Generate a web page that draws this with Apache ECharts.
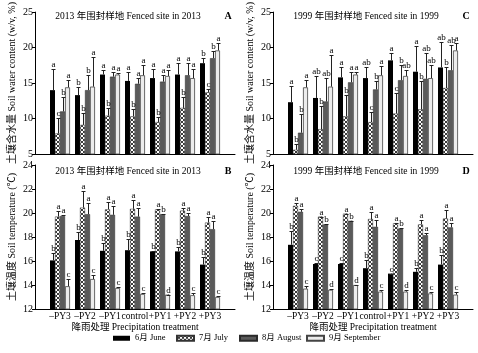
<!DOCTYPE html>
<html>
<head>
<meta charset="utf-8">
<script src="https://cdn.jsdelivr.net/npm/echarts@6/dist/echarts.min.js"></script>
<style>
  html, body { margin: 0; padding: 0; background: #fff; }
  #main { width: 478px; height: 353px; }
</style>
</head>
<body>
<div id="main"></div>
<script>
const categories = ['–PY3', '–PY2', '–PY1', 'control', '+PY1', '+PY2', '+PY3'];
const months = ['6月 June', '7月 July', '8月 August', '9月 September'];

// A: soil water content, 2013 site (rows: June, July, August, September)
const swc13Mean = [
  [14.0, 13.3, 16.2, 15.3, 15.7, 16.2, 17.8],
  [7.9, 9.1, 10.4, 10.3, 9.5, 11.5, 13.7],
  [11.0, 14.0, 15.9, 14.9, 15.2, 16.1, 18.5],
  [14.4, 14.5, 16.2, 16.1, 16.0, 15.7, 19.6]
];
const swc13Top = [
  [17.0, 14.5, 16.8, 16.5, 17.0, 17.8, 18.6],
  [10.1, 10.8, 11.5, 11.3, 10.2, 13.0, 14.1],
  [13.0, 16.2, 16.5, 15.7, 16.2, 17.8, 19.5],
  [15.5, 18.7, 16.4, 17.5, 16.8, 17.0, 20.6]
];
const swc13Letters = [
  ['a', 'b', 'a', 'a', 'a', 'a', 'b'],
  ['c', 'b', 'b', 'b', 'b', 'b', 'c'],
  ['b', 'b', 'a', 'a', 'a', 'a', 'b'],
  ['a', 'a', 'a', 'a', 'a', 'a', 'a']
];

// C: soil water content, 1999 site
const swc99Mean = [
  [12.3, 12.9, 15.8, 15.7, 18.2, 16.6, 17.2],
  [5.6, 8.5, 10.3, 9.5, 10.7, 11.3, 14.3],
  [8.0, 12.4, 15.1, 14.1, 15.4, 15.6, 16.8],
  [14.4, 14.5, 16.2, 16.1, 16.0, 15.7, 19.6]
];
const swc99Top = [
  [14.6, 16.0, 17.2, 17.2, 19.2, 20.2, 20.8],
  [6.4, 11.7, 13.3, 10.9, 13.6, 15.3, 17.3],
  [10.7, 15.7, 16.5, 15.3, 17.5, 19.2, 20.4],
  [15.5, 19.0, 16.5, 17.4, 16.8, 17.5, 20.6]
];
const swc99Letters = [
  ['a', 'ab', 'a', 'ab', 'a', 'a', 'ab'],
  ['b', 'b', 'b', 'c', 'c', 'b', 'b'],
  ['b', 'ab', 'a', 'b', 'b', 'ab', 'ab'],
  ['a', 'a', 'a', 'a', 'ab', 'ab', 'a']
];

// B: soil temperature, 2013 site
const st13Mean = [
  [16.05, 17.75, 16.85, 16.9, 16.8, 16.8, 15.7],
  [19.7, 20.45, 20.3, 20.35, 20.3, 20.2, 19.2],
  [19.75, 19.9, 19.85, 19.7, 19.9, 19.75, 18.65],
  [13.9, 14.5, 13.75, 13.25, 13.2, 13.15, 13.0]
];
const st13Top = [
  [16.7, 18.4, 17.5, 17.8, 16.8, 17.15, 16.3],
  [20.2, 21.8, 20.95, 21.1, 20.3, 20.4, 19.7],
  [19.8, 20.8, 20.6, 20.4, 19.9, 20.0, 19.3],
  [14.5, 14.8, 13.8, 13.3, 13.2, 13.3, 13.1]
];
const st13Letters = [
  ['b', 'b', 'b', 'b', 'b', 'b', 'b'],
  ['a', 'a', 'a', 'a', 'a', 'a', 'a'],
  ['a', 'a', 'a', 'a', 'b', 'a', 'a'],
  ['c', 'c', 'c', 'c', 'd', 'c', 'c']
];

// D: soil temperature, 1999 site
const st99Mean = [
  [17.35, 15.75, 15.75, 15.4, 14.95, 15.1, 15.7],
  [20.6, 19.7, 19.95, 19.5, 19.15, 19.05, 19.55],
  [20.1, 19.05, 19.35, 18.85, 18.7, 18.15, 18.8],
  [13.7, 13.6, 14.0, 13.45, 13.45, 13.3, 13.2]
];
const st99Top = [
  [18.5, 15.8, 15.85, 16.1, 14.95, 15.4, 16.5],
  [20.85, 19.7, 19.95, 20.1, 19.2, 19.4, 20.25],
  [20.35, 19.1, 19.35, 19.4, 18.75, 18.3, 19.2],
  [13.9, 13.65, 14.0, 13.55, 13.6, 13.4, 13.4]
];
const st99Letters = [
  ['b', 'c', 'c', 'b', 'c', 'b', 'b'],
  ['a', 'a', 'a', 'a', 'a', 'a', 'a'],
  ['a', 'b', 'b', 'a', 'b', 'a', 'a'],
  ['c', 'd', 'd', 'c', 'd', 'c', 'c']
];

const FONT = "'Liberation Serif', 'Noto Sans CJK SC', serif";
const BAR_W = 5;

// 7月 pattern
const tile = document.createElement('canvas');
tile.width = 4; tile.height = 4;
const tc = tile.getContext('2d');
tc.fillStyle = '#fff';
tc.fillRect(0, 0, 4, 4);
tc.fillStyle = '#3a3a3a';
[[0, 0], [1, 1], [2, 2], [3, 3], [3, 0], [2, 1], [1, 2], [0, 3]].forEach(p => tc.fillRect(p[0], p[1], 1, 1));

const monthStyles = [
  { color: '#000' },
  { color: { image: tile, repeat: 'repeat' }, borderColor: '#333', borderWidth: 0.5 },
  { color: '#5a5a5a', borderColor: '#2a2a2a', borderWidth: 0.5 },
  { color: '#ececec', borderColor: '#444', borderWidth: 0.8 }
];

const panels = [
  { grid: 0, mean: swc13Mean, top: swc13Top, letters: swc13Letters,
    title: '2013 年围封样地 Fenced site in 2013', tag: 'A' },
  { grid: 1, mean: swc99Mean, top: swc99Top, letters: swc99Letters,
    title: '1999 年围封样地 Fenced site in 1999', tag: 'C' },
  { grid: 2, mean: st13Mean, top: st13Top, letters: st13Letters,
    title: '2013 年围封样地 Fenced site in 2013', tag: 'B' },
  { grid: 3, mean: st99Mean, top: st99Top, letters: st99Letters,
    title: '1999 年围封样地 Fenced site in 1999', tag: 'D' }
];

const grids = [
  { left: 35, top: 10, width: 200, height: 144 },
  { left: 273, top: 10, width: 200, height: 144 },
  { left: 35, top: 165, width: 200, height: 144 },
  { left: 273, top: 165, width: 200, height: 144 }
];

const axisLine = { show: true, lineStyle: { color: '#000', width: 1 } };

const xAxes = grids.map((g, i) => ({
  type: 'value', gridIndex: i, min: 0, max: 8, interval: 1,
  axisLine: axisLine, axisTick: { show: false }, splitLine: { show: false },
  axisLabel: {
    show: i >= 2, margin: 3, fontSize: 9.5, fontFamily: FONT, color: '#000',
    formatter: v => categories[v - 1] || ''
  },
  name: i >= 2 ? '降雨处理 Precipitation treatment' : '',
  nameLocation: 'middle', nameGap: 12,
  nameTextStyle: { fontSize: 9.5, fontFamily: FONT, color: '#000' }
}));

const yAxes = grids.map((g, i) => {
  const swc = i < 2;
  return {
    type: 'value', gridIndex: i,
    min: swc ? 5 : 12, max: swc ? 25 : 24, interval: swc ? 5 : 2,
    axisLine: axisLine,
    axisTick: { show: true, length: 3, lineStyle: { color: '#000' } },
    splitLine: { show: false },
    axisLabel: { margin: 2, fontSize: 10, fontFamily: FONT, color: '#000' },
    name: swc ? '土壤含水量 Soil water content (w/v, %)' : '土壤温度 Soil temperature (℃)',
    nameLocation: 'middle', nameGap: 18,
    nameTextStyle: { fontSize: 10, fontFamily: FONT, color: '#000' }
  };
});

const series = [];
panels.forEach(p => {
  for (let m = 0; m < 4; m++) {
    series.push({
      type: 'bar', name: months[m], xAxisIndex: p.grid, yAxisIndex: p.grid,
      barWidth: BAR_W, barGap: '0%',
      itemStyle: monthStyles[m],
      data: p.mean[m].map((v, i) => [i + 1, v])
    });
  }
  const errData = [];
  const errLetters = [];
  for (let m = 0; m < 4; m++) {
    p.mean[m].forEach((v, i) => {
      errData.push([i + 1, m, v, p.top[m][i]]);
      errLetters.push(p.letters[m][i]);
    });
  }
  series.push({
    type: 'custom', xAxisIndex: p.grid, yAxisIndex: p.grid, z: 5,
    data: errData,
    renderItem: (params, api) => {
      const x = api.value(0), m = api.value(1);
      const base = api.coord([x, api.value(2)]);
      const tip = api.coord([x, api.value(3)]);
      const cx = Math.round(base[0] + (m - 1.5) * BAR_W) + 0.5;
      const ty = Math.round(tip[1]) + 0.5;
      return {
        type: 'group',
        children: [
          { type: 'line', shape: { x1: cx, y1: base[1], x2: cx, y2: ty },
            style: { stroke: '#222', lineWidth: 1 } },
          { type: 'line', shape: { x1: cx - 2, y1: ty, x2: cx + 2, y2: ty },
            style: { stroke: '#222', lineWidth: 1 } },
          { type: 'text', x: cx, y: ty - 0.5,
            style: { text: errLetters[params.dataIndex], fontSize: 9, fontFamily: FONT,
              fill: '#000', align: 'center', verticalAlign: 'bottom' } }
        ]
      };
    }
  });
});

const graphics = [];
panels.forEach(p => {
  const g = grids[p.grid];
  graphics.push({ type: 'text', x: g.left + 93, y: g.top + 6,
    style: { text: p.title, fontSize: 9.5, fontFamily: FONT, fill: '#000',
      align: 'center', verticalAlign: 'middle' } });
  graphics.push({ type: 'text', x: g.left + 193, y: g.top + 6,
    style: { text: p.tag, fontSize: 10, fontWeight: 'bold', fontFamily: FONT, fill: '#000',
      align: 'center', verticalAlign: 'middle' } });
});

// one legend per month so each item sits where the reference puts it
const legendLefts = [113, 176, 239, 306];
const legends = months.map((name, i) => ({
  data: [name], left: legendLefts[i], top: 334, icon: 'rect', padding: 0,
  itemWidth: 17, itemHeight: 5,
  textStyle: { fontSize: 8.5, fontFamily: FONT, color: '#000' }
}));

const chart = echarts.init(document.getElementById('main'));
chart.setOption({
  animation: false,
  grid: grids,
  xAxis: xAxes,
  yAxis: yAxes,
  legend: legends,
  graphic: graphics,
  series: series
});
</script>
</body>
</html>
